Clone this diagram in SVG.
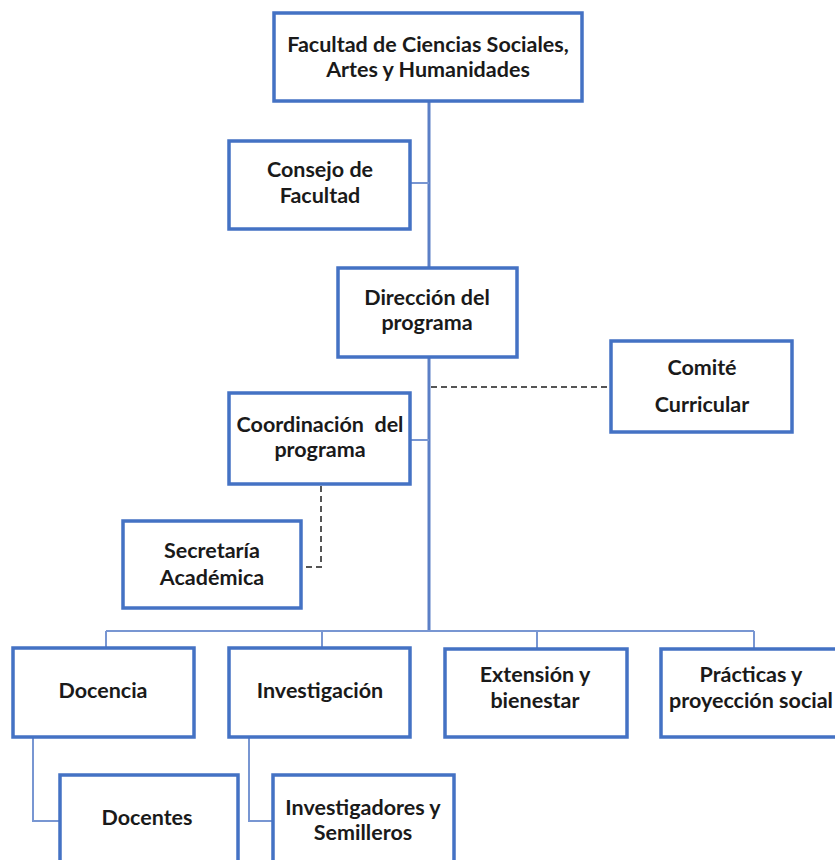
<svg xmlns="http://www.w3.org/2000/svg" width="835" height="860" viewBox="0 0 835 860">
<style>
.box{fill:#ffffff;stroke:#4472C4;stroke-width:3.5}
.ln{fill:none;stroke:#7896d2;stroke-width:2}
.main{fill:none;stroke:#5b7fc6;stroke-width:3}
.dash{fill:none;stroke:#555555;stroke-width:2;stroke-dasharray:6 4}
text{font-family:"Lato","Liberation Sans",sans-serif;font-weight:bold;font-size:21.5px;fill:#1a1a1a;text-anchor:middle}
</style>
<rect width="835" height="860" fill="#ffffff"/>
<g id="connectors">
<path class="main" d="M429 101 V631"/>
<path class="ln" d="M410 183 H429"/>
<path class="ln" d="M410 440 H429"/>
<path class="dash" d="M431 387 H610"/>
<path class="dash" d="M321 486 V567 H303"/>
<path class="ln" d="M106 631 H754"/>
<path class="ln" d="M106 631 V648"/>
<path class="ln" d="M322 631 V648"/>
<path class="ln" d="M537 631 V649"/>
<path class="ln" d="M754 631 V649"/>
<path class="ln" d="M33 737 V821 H60"/>
<path class="ln" d="M249 737 V821 H273"/>
</g>
<g id="facultad">
<rect class="box" x="274" y="13" width="308" height="88"/>
<text x="428" y="52">Facultad de Ciencias Sociales,</text>
<text x="428" y="77">Artes y Humanidades</text>
</g>
<g id="consejo">
<rect class="box" x="229" y="141" width="181" height="88"/>
<text x="320" y="177">Consejo de</text>
<text x="320" y="203">Facultad</text>
</g>
<g id="direccion">
<rect class="box" x="338" y="268" width="179" height="89"/>
<text x="427" y="305">Dirección del</text>
<text x="427" y="330">programa</text>
</g>
<g id="comite">
<rect class="box" x="611" y="341" width="181" height="91"/>
<text x="702" y="375">Comité</text>
<text x="702" y="412">Curricular</text>
</g>
<g id="coordinacion">
<rect class="box" x="229" y="393" width="181" height="91"/>
<text x="320" y="432" xml:space="preserve">Coordinación  del</text>
<text x="320" y="457">programa</text>
</g>
<g id="secretaria">
<rect class="box" x="123" y="521" width="178" height="87"/>
<text x="212" y="558">Secretaría</text>
<text x="212" y="585">Académica</text>
</g>
<g id="docencia">
<rect class="box" x="13" y="648" width="181" height="89"/>
<text x="103" y="698">Docencia</text>
</g>
<g id="investigacion">
<rect class="box" x="229" y="648" width="181" height="89"/>
<text x="320" y="698">Investigación</text>
</g>
<g id="extension">
<rect class="box" x="445" y="649" width="182" height="88"/>
<text x="535" y="682">Extensión y</text>
<text x="535" y="708">bienestar</text>
</g>
<g id="practicas">
<rect class="box" x="661" y="649" width="190" height="88"/>
<text x="751" y="682">Prácticas y</text>
<text x="751" y="708">proyección social</text>
</g>
<g id="docentes">
<rect class="box" x="60" y="775" width="178" height="100"/>
<text x="147" y="825">Docentes</text>
</g>
<g id="investigadores">
<rect class="box" x="273" y="775" width="181" height="100"/>
<text x="363" y="815">Investigadores y</text>
<text x="363" y="840">Semilleros</text>
</g>
</svg>
